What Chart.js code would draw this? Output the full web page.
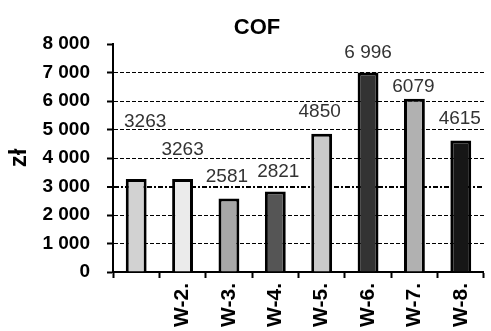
<!DOCTYPE html>
<html>
<head>
<meta charset="utf-8">
<title>COF</title>
<script src="https://cdn.jsdelivr.net/npm/chart.js@4.4.1/dist/chart.umd.min.js"></script>
<style>
    html, body { margin: 0; padding: 0; background: #fff; overflow: hidden; }
    #wrap { position: relative; width: 491px; height: 331px; }
</style>
</head>
<body>
<div id="wrap"><canvas id="cofChart"></canvas></div>
<script>
(function () {
    'use strict';

    // Data
    const categories = ['', 'W-2.', 'W-3.', 'W-4.', 'W-5.', 'W-6.', 'W-7.', 'W-8.'];
    const costs = [3263, 3263, 2581, 2821, 4850, 6996, 6079, 4615];
    const costLabels = ['3263', '3263', '2581', '2821', '4850', '6 996', '6079', '4615'];
    const yTickValues = [0, 1000, 2000, 3000, 4000, 5000, 6000, 7000, 8000];

    // Colors
    const barFills = ['#d2d2d2', '#ebebeb', '#a7a7a7', '#555555', '#c9c9c9', '#333333', '#b1b1b1', '#161616'];
    const INK = '#000';
    const FONT = '"Liberation Sans", Arial, sans-serif';

    // how far each value label sits above its bar (px), and sideways nudge
    const labelLift = [57, 29, 22, 20, 22, 20, 12, 22];
    const labelShift = [9, 0, -2, 3, -2, 0, -1, -1];

    const valueLabels = {
        id: 'valueLabels',
        afterDatasetsDraw(chart) {
            const ctx = chart.ctx;
            const meta = chart.getDatasetMeta(0);
            ctx.save();
            ctx.font = '19px ' + FONT;
            ctx.fillStyle = '#333';
            ctx.textAlign = 'center';
            ctx.textBaseline = 'middle';
            meta.data.forEach((bar, i) => {
                ctx.fillText(costLabels[i], bar.x + labelShift[i], bar.y - labelLift[i]);
            });
            ctx.restore();
        }
    };

    const heading = {
        id: 'heading',
        afterDraw(chart) {
            const ctx = chart.ctx;
            ctx.save();
            ctx.font = 'bold 22px ' + FONT;
            ctx.fillStyle = INK;
            ctx.textAlign = 'center';
            ctx.textBaseline = 'middle';
            ctx.fillText('COF', 257, 28);
            ctx.restore();
        }
    };

    new Chart(document.getElementById('cofChart'), {
        type: 'bar',
        data: {
            labels: categories,
            datasets: [{
                data: costs,
                backgroundColor: barFills,
                borderColor: INK,
                borderWidth: 3,
                barPercentage: 0.45,
                categoryPercentage: 1,
            }],
        },
        options: {
            responsive: true,
            maintainAspectRatio: false,
            animation: false,
            layout: { padding: { top: 44, left: 2, right: 0, bottom: 0 } },
            plugins: {
                legend: { display: false },
                tooltip: { enabled: false },
                title: { display: false },
            },
            scales: {
                x: {
                    afterFit: s => { s.height = 59; },
                    offset: true,
                    grid: {
                        offset: true,
                        drawOnChartArea: false,
                        drawTicks: true,
                        tickLength: 6,
                        tickColor: INK,
                        tickWidth: 2,
                    },
                    border: { display: true, color: INK, width: 2 },
                    ticks: {
                        color: INK,
                        font: { family: FONT, size: 21, weight: 'bold' },
                        minRotation: 90,
                        maxRotation: 90,
                        padding: 5,
                        autoSkip: false,
                    },
                },
                y: {
                    min: 0,
                    max: 8000,
                    afterFit: s => { s.width = 111; },
                    afterBuildTicks: s => { s.ticks = yTickValues.map(v => ({ value: v })); },
                    title: {
                        display: true,
                        text: 'zł',
                        color: INK,
                        font: { family: FONT, size: 24, weight: 'bold' },
                        padding: { top: 3, bottom: 3 },
                    },
                    grid: {
                        color: c => (c.tick && (c.tick.value === 0 || c.tick.value === 8000)) ? 'rgba(0,0,0,0)' : INK,
                        lineWidth: c => (c.tick && c.tick.value === 3000) ? 2 : 1,
                        tickLength: 6,
                        tickColor: INK,
                        tickWidth: 2,
                        tickBorderDash: [],
                    },
                    border: {
                        display: true,
                        color: INK,
                        width: 2,
                        dash: c => (c.tick && c.tick.value === 3000) ? [5, 2, 2, 2] : [4, 2],
                    },
                    ticks: {
                        color: INK,
                        font: { family: FONT, size: 19, weight: 'bold' },
                        padding: 17,
                        callback: v => v === 0 ? '0' : (v / 1000) + ' 000',
                    },
                },
            },
        },
        plugins: [valueLabels, heading],
    });
})();
</script>
</body>
</html>
